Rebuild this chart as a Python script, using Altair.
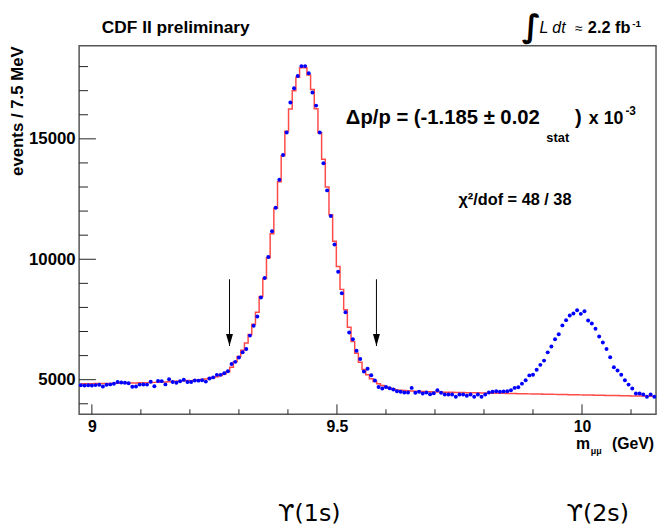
import altair as alt
import pandas as pd

# ---------------- data ----------------
BIN_LO = 8.97375      # GeV, low edge of first bin
BIN_W = 0.0075        # 7.5 MeV bins

counts = [
    4765, 4755, 4765, 4760, 4775, 4790, 4715, 4790, 4805, 4830,
    4905, 4880, 4875, 4850, 4710, 4720, 4795, 4800, 4795, 4910,
    4730, 4945, 4940, 4805, 5015, 4900, 4875, 4935, 5000, 4905,
    4905, 4970, 4960, 4975, 4920, 5045, 5095, 5200, 5200, 5270,
    5350, 5650, 5740, 5925, 6135, 6270, 6830, 7240, 7620, 8410,
    9220, 10090, 11160, 12140, 13300, 14330, 15260, 16510, 17100, 17610,
    18020, 18020, 17720, 16920, 16380, 15260, 13990, 12860, 11800, 10610,
    9480, 8590, 7800, 6960, 6680, 6200, 5860, 5340, 5450, 5180,
    4970, 4700, 4630, 4700, 4645, 4595, 4522, 4495, 4467, 4467,
    4659, 4454, 4495, 4426, 4467, 4399, 4440, 4563, 4454, 4385,
    4385, 4385, 4290, 4385, 4385, 4331, 4385, 4290, 4385, 4290,
    4385, 4467, 4495, 4522, 4495, 4508, 4522, 4563, 4659, 4686,
    4836, 4973, 5178, 5205, 5410, 5615, 5792, 6134, 6380, 6680,
    6885, 7254, 7472, 7664, 7746, 7882, 7733, 7842, 7459, 7336,
    7117, 6790, 6544, 6270, 5929, 5519, 5383, 5205, 4973, 4795,
    4631, 4426, 4426, 4385, 4290, 4385, 4290,
]

fit = [
    4830, 4832, 4834, 4836, 4838, 4840, 4842, 4844, 4846, 4848,
    4850, 4853, 4856, 4859, 4862, 4866, 4870, 4874, 4878, 4883,
    4888, 4894, 4900, 4907, 4914, 4922, 4931, 4941, 4952, 4964,
    4960, 4975, 4992, 5011, 5033, 5058, 5088, 5124, 5170, 5240,
    5330, 5520, 5740, 5960, 6220, 6520, 6880, 7300, 7800, 8450,
    9200, 10060, 11060, 12120, 13220, 14300, 15320, 16240, 17000, 17560,
    17950, 17950, 17650, 17050, 16250, 15250, 14150, 13000, 11850, 10750,
    9700, 8750, 7900, 7180, 6580, 6100, 5720, 5420, 5200, 5040,
    4920, 4830, 4760, 4700, 4650, 4610, 4575, 4560, 4548, 4538,
    4530, 4522, 4515, 4509, 4503, 4498, 4493, 4489, 4485, 4481,
    4477, 4474, 4471, 4468, 4465, 4462, 4459, 4456, 4453, 4450,
    4447, 4444, 4441, 4438, 4435, 4432, 4429, 4426, 4423, 4420,
    4417, 4414, 4411, 4408, 4405, 4402, 4399, 4396, 4393, 4390,
    4387, 4384, 4381, 4378, 4375, 4372, 4369, 4366, 4363, 4360,
    4357, 4354, 4351, 4348, 4345, 4342, 4339, 4336, 4333, 4330,
    4327, 4324, 4321, 4318, 4315, 4312, 4309,
]

m_centers = [round(BIN_LO + BIN_W * (k + 0.5), 5) for k in range(len(counts))]

X_DOMAIN = [8.974, 10.151]
Y_DOMAIN = [3566, 18865]

y_major = [5000, 10000, 15000]
y_minor = [4000, 6000, 7000, 8000, 9000, 11000, 12000, 13000, 14000,
           16000, 17000, 18000]
x_major = [9.0, 9.5, 10.0]
x_minor = [9.1, 9.2, 9.3, 9.4, 9.6, 9.7, 9.8, 9.9, 10.1]

arrow_m = [9.2808, 9.5806]
arrow_top = 9170
arrow_tip = 6400

peak_labels = ["ϒ(1s)", "ϒ(2s)"]
peak_label_m = [9.4435, 10.032]

# ---------------- chart ----------------
W, H = 584, 373
SANS = "Liberation Sans"
INK = "#222222"

hist = pd.DataFrame({"m": m_centers, "n": counts})
fitdf = pd.DataFrame({"m": m_centers, "n": fit})

xaxis = alt.Axis(values=x_major, format=".1~f", ticks=False, domain=False,
                 grid=False, labelFont=SANS, labelFontSize=16,
                 labelFontWeight="bold", labelColor="black", labelPadding=4,
                 labelFlush=False, labelOverlap=False, title=None)
yaxis = alt.Axis(values=y_major, format="d", ticks=False, domain=False,
                 grid=False, labelFont=SANS, labelFontSize=17,
                 labelFontWeight="bold", labelColor="black", labelPadding=4,
                 labelOverlap=False,
                 title="events / 7.5 MeV", titleFont=SANS, titleFontSize=17,
                 titleFontWeight="bold", titleColor="black", titleAngle=270,
                 titleAlign="right", titleBaseline="middle", titleX=-62,
                 titleY=0)

YS = alt.Scale(domain=Y_DOMAIN, nice=False, zero=False)
X = alt.X("m:Q", scale=alt.Scale(domain=X_DOMAIN, nice=False, zero=False),
          axis=xaxis)
Y = alt.Y("n:Q", scale=YS, axis=yaxis)

fit_line = alt.Chart(fitdf).mark_line(
    interpolate="step", color="#ff2a2a", strokeWidth=1.5, opacity=0.85
).encode(x=X, y=Y)

points = alt.Chart(hist).mark_circle(size=16, color="#0000ff", opacity=1).encode(
    x=X, y=Y)

ytick_major = alt.Chart(pd.DataFrame({"n": y_major})).mark_rule(
    color=INK, strokeWidth=1).encode(y=Y, x=alt.value(0), x2=alt.value(17))
ytick_minor = alt.Chart(pd.DataFrame({"n": y_minor})).mark_rule(
    color=INK, strokeWidth=1).encode(y=Y, x=alt.value(0), x2=alt.value(9))
xtick_major = alt.Chart(pd.DataFrame({"m": x_major})).mark_rule(
    color=INK, strokeWidth=1).encode(x=X, y=alt.value(H), y2=alt.value(H - 10))
xtick_minor = alt.Chart(pd.DataFrame({"m": x_minor})).mark_rule(
    color=INK, strokeWidth=1).encode(x=X, y=alt.value(H), y2=alt.value(H - 5))

arrows = pd.DataFrame({"m": arrow_m, "n": [arrow_top] * 2,
                       "n2": [arrow_tip] * 2})
arrow_shaft = alt.Chart(arrows).mark_rule(color="black", strokeWidth=1).encode(
    x=X, y=Y, y2="n2:Q")
arrow_head = alt.Chart(arrows).mark_point(
    shape="M-0.583,-2L0.583,-2L0,0Z", size=144, filled=True, color="black",
    opacity=1).encode(x=X, y=alt.Y("n2:Q", scale=YS, axis=yaxis))

one = pd.DataFrame({"k": [0]})


def label(txt, x, y, size=16, weight="bold", style="normal", align="left",
          font=SANS):
    return alt.Chart(one).mark_text(
        text=txt, align=align, baseline="alphabetic", font=font,
        fontSize=size, fontWeight=weight, fontStyle=style, color="black"
    ).encode(x=alt.value(x), y=alt.value(y))


texts = [
    label("CDF II preliminary", 23, -13, size=17.5),
    label("∫", 448, -9, size=32, weight="bold", font="DejaVu Sans"),
    label("L dt", 466, -13, size=16, weight="normal", style="italic"),
    label("≈", 502, -13, size=14, weight="normal"),
    label("2.2 fb", 515, -13, size=16.5),
    label("-1", 560, -19, size=10),
    label("Δp/p = (-1.185 ± 0.02", 270, 79, size=20.5),
    label("stat", 473, 97, size=13),
    label(")", 502, 79, size=20.5),
    label("x 10", 516, 79, size=18),
    label("-3", 553, 70, size=12),
    label("χ²/dof = 48 / 38", 384, 161, size=16.5),
    label("m", 503, 408, size=16),
    label("μμ", 518, 413, size=9),
    label("(GeV)", 582, 408, size=16, align="right"),
]

peaks = alt.Chart(pd.DataFrame({"m": peak_label_m, "t": peak_labels})).mark_text(
    align="center", baseline="alphabetic", font="DejaVu Sans", fontSize=24,
    fontWeight="normal", color="black"
).encode(x=X, y=alt.value(481), text="t:N")

chart = alt.layer(
    ytick_minor, ytick_major, xtick_minor, xtick_major,
    fit_line, points, arrow_shaft, arrow_head, peaks, *texts
).properties(
    width=W, height=H,
    autosize=alt.AutoSizeParams(type="none"),
    padding={"left": 72, "top": 35, "right": 2, "bottom": 115},
    background="white",
).configure_view(stroke="#555555", strokeWidth=1.5)

chart.save("out.html", embed_options={"renderer": "svg", "actions": False})
